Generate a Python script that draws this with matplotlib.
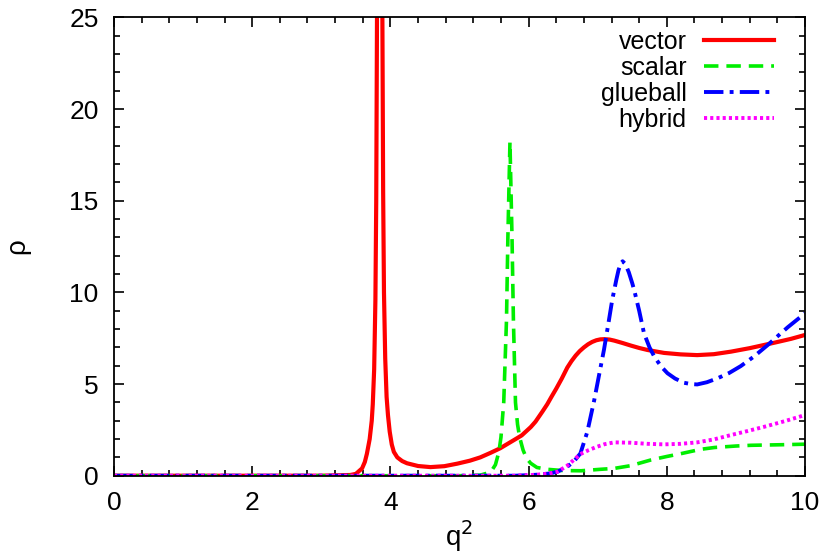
import numpy as np
import matplotlib.pyplot as plt

plt.rcParams['font.family'] = ['Liberation Sans', 'DejaVu Sans']

# values
vector_x = [0.0, 3.0, 3.42, 3.50, 3.59, 3.63, 3.66, 3.70, 3.73, 3.745, 3.765, 3.783, 3.795,
            3.806, 3.815, 3.83, 3.845, 3.86, 3.875, 3.884, 3.895, 3.907, 3.925, 3.945,
            3.965, 3.99, 4.02, 4.05, 4.10, 4.17, 4.24, 4.40, 4.58, 4.78, 4.97, 5.15, 5.30,
            5.45, 5.59, 5.79, 5.90, 6.03, 6.10, 6.20, 6.27, 6.33, 6.40, 6.48, 6.56, 6.62,
            6.68, 6.74, 6.80, 6.86, 6.92, 6.98, 7.04, 7.10, 7.17, 7.24, 7.36, 7.48, 7.60,
            7.72, 7.96, 8.20, 8.44, 8.68, 8.93, 9.20, 9.56, 9.80, 10.0]
vector_y = [0.0, 0.0, 0.04, 0.1, 0.4, 0.75, 1.2, 2.0, 3.0, 3.9, 5.8, 9.6, 15.0,
            25.0, 40.0, 100.0, 200.0, 100.0, 40.0, 25.0, 15.5, 10.0, 6.4, 4.3,
            3.3, 2.4, 1.7, 1.3, 1.0, 0.8, 0.68, 0.53, 0.47, 0.52, 0.66, 0.82, 1.0,
            1.25, 1.5, 1.95, 2.2, 2.65, 2.95, 3.5, 3.9, 4.3, 4.75, 5.3, 5.9, 6.25,
            6.55, 6.8, 7.0, 7.17, 7.3, 7.39, 7.44, 7.45, 7.43, 7.37, 7.24, 7.1, 6.97,
            6.86, 6.7, 6.62, 6.58, 6.63, 6.77, 6.96, 7.26, 7.47, 7.68]

scalar_x = [0.0, 5.0, 5.30, 5.40, 5.47, 5.52, 5.57, 5.60, 5.64, 5.68, 5.70, 5.73, 5.76,
            5.78, 5.81, 5.84, 5.87, 5.92, 5.97, 6.03, 6.12, 6.27, 6.50, 6.76, 7.04, 7.24,
            7.48, 7.77, 8.00, 8.20, 8.49, 8.69, 9.00, 9.22, 9.65, 10.0]
scalar_y = [0.0, 0.0, 0.03, 0.14, 0.3, 0.6, 1.3, 2.1, 4.0, 8.5, 13.0, 18.2, 13.0,
            8.5, 4.0, 2.8, 2.1, 1.4, 0.95, 0.68, 0.45, 0.35, 0.28, 0.27, 0.35, 0.4,
            0.55, 0.86, 1.05, 1.2, 1.44, 1.54, 1.62, 1.66, 1.69, 1.72]

glueball_x = [0.0, 5.8, 6.10, 6.30, 6.42, 6.56, 6.66, 6.75, 6.85, 6.95, 7.02, 7.09, 7.15,
              7.21, 7.27, 7.30, 7.33, 7.36, 7.40, 7.45, 7.50, 7.53, 7.60, 7.67, 7.75,
              7.82, 7.92, 8.01, 8.12, 8.25, 8.35, 8.44, 8.58, 8.73, 8.90, 9.07, 9.26,
              9.46, 9.60, 9.75, 10.0]
glueball_y = [0.0, 0.0, 0.05, 0.12, 0.22, 0.49, 0.8, 1.22, 2.4, 4.13, 5.5, 6.86, 8.2,
              9.59, 10.7, 11.2, 11.55, 11.7, 11.55, 11.1, 10.5, 10.1, 9.0, 7.77, 7.0,
              6.49, 5.95, 5.59, 5.3, 5.07, 5.0, 4.98, 5.1, 5.31, 5.6, 5.98, 6.5,
              7.13, 7.6, 8.1, 8.86]

hybrid_x = [0.0, 5.8, 6.10, 6.30, 6.42, 6.56, 6.75, 6.87, 6.99, 7.10, 7.24, 7.48, 7.72,
            7.96, 8.20, 8.44, 8.68, 8.93, 9.17, 9.41, 9.70, 10.0]
hybrid_y = [0.0, 0.0, 0.05, 0.12, 0.22, 0.55, 1.18, 1.4, 1.58, 1.72, 1.82, 1.8, 1.74,
            1.71, 1.74, 1.82, 1.98, 2.22, 2.44, 2.67, 2.97, 3.31]

fig = plt.figure(figsize=(8.26, 5.6), dpi=100)
ax = fig.add_axes([0.138, 0.1505, 0.8366, 0.8183])

ax.plot(vector_x, vector_y, color='#ff0000', lw=3.0, label='vector')
ax.plot(scalar_x, scalar_y, color='#00ee00', lw=2.6, dashes=(4, 2.2), label='scalar')
ax.plot(glueball_x, glueball_y, color='#0000ff', lw=2.8, dashes=(5, 1.6, 1, 1.6), label='glueball')
ax.plot(hybrid_x, hybrid_y, color='#ff00ff', lw=2.8, dashes=(0.8, 0.8), label='hybrid')

ax.set_xlim(0, 10)
ax.set_ylim(0, 25)
ax.set_xticks(np.arange(0, 11, 2))
ax.set_yticks(np.arange(0, 26, 5))
ax.set_xticks(np.arange(0, 10.01, 0.4), minor=True)
ax.set_yticks(np.arange(0, 26, 1), minor=True)
ax.tick_params(which='both', direction='in', top=True, right=True, labelsize=19, width=1.2)
ax.tick_params(which='major', length=7)
ax.tick_params(which='minor', length=4)
ax.tick_params(axis='x', which='major', pad=11)
ax.tick_params(axis='y', which='major', pad=11)
for s in ax.spines.values():
    s.set_linewidth(1.3)

ax.set_xlabel('q$^2$', fontsize=20, labelpad=2)
ax.set_ylabel('ρ', fontsize=20, labelpad=28)

ax.legend(loc='upper right', frameon=False, markerfirst=False, fontsize=18,
          handlelength=2.8, handletextpad=0.7, labelspacing=0.08,
          borderaxespad=0.0, borderpad=0.3, bbox_to_anchor=(0.966, 0.989))

fig.savefig('out.png', dpi=100)
